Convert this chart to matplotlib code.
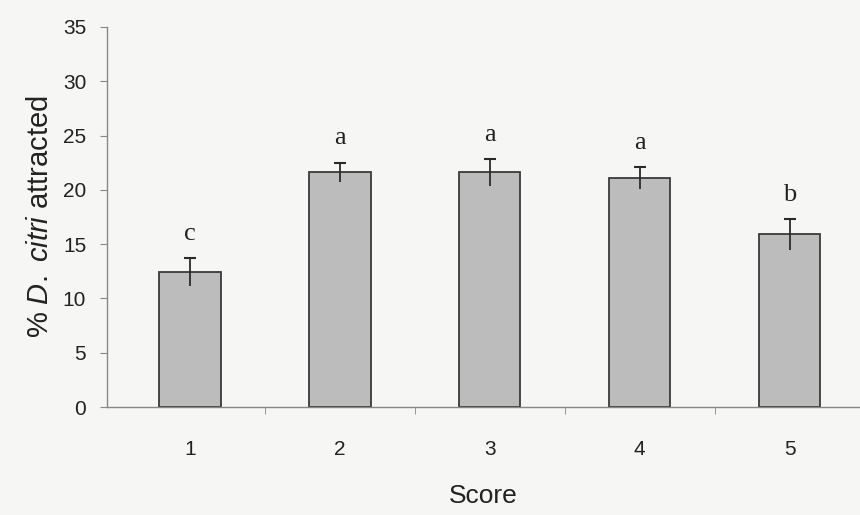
import matplotlib
matplotlib.use('Agg')
import matplotlib.pyplot as plt
import numpy as np

plt.rcParams['font.family'] = ['Liberation Sans', 'DejaVu Sans']
plt.rcParams['mathtext.fontset'] = 'custom'
plt.rcParams['mathtext.rm'] = 'Liberation Sans'
plt.rcParams['mathtext.it'] = 'Liberation Sans:italic'

scores = [1, 2, 3, 4, 5]
attracted = [12.4, 21.6, 21.6, 21.1, 15.9]
sem = [1.3, 0.9, 1.2, 1.0, 1.4]
groups = ['c', 'a', 'a', 'a', 'b']

fig = plt.figure(figsize=(8.6, 5.15), dpi=100, facecolor='#f6f6f4')
ax = fig.add_axes([0.1244, 0.2097, 0.8756, 0.7379])
ax.set_facecolor('#f6f6f4')

x = np.array(scores)
ax.bar(x, attracted, width=0.41, color='#bcbcbc', edgecolor='#3a3a3a', linewidth=1.3, zorder=2)
# error bars: stem runs through the bar top, cap only on the upper end
ax.errorbar(x, attracted, yerr=sem, fmt='none', ecolor='#2a2a2a', elinewidth=1.3, capsize=0, zorder=3)
tops = np.array(attracted) + np.array(sem)
ax.plot(x, tops, linestyle='none', marker='_', markersize=9, markeredgewidth=1.5, color='#2a2a2a', zorder=3)

for xi, t, g in zip(x, tops, groups):
    ax.text(xi, t + 1.7, g, ha='center', va='baseline', fontsize=19,
            family=['Liberation Serif', 'DejaVu Serif'], color='#222222')

ax.set_xlim(0.447, 5.47)
ax.set_ylim(0, 35)
ax.set_yticks(np.arange(0, 36, 5))
ax.set_xticks(x)
ax.set_xticks(np.arange(1.5, 5.5, 1.0), minor=True)
ax.tick_params(axis='x', which='major', length=0, pad=24, labelsize=15, labelcolor='#222222')
ax.tick_params(axis='x', which='minor', length=5, direction='out', color='#888888')
ax.tick_params(axis='y', length=5, direction='out', color='#888888', pad=10, labelsize=15, labelcolor='#222222')

for s in ['top', 'right']:
    ax.spines[s].set_visible(False)
for s in ['left', 'bottom']:
    ax.spines[s].set_color('#888888')
    ax.spines[s].set_linewidth(1.0)

ax.set_ylabel('% $\\mathit{D.\\ citri}$ attracted', fontsize=21, color='#222222', labelpad=6)
ax.set_xlabel('Score', fontsize=19, color='#222222', labelpad=18)

fig.savefig('out.png', dpi=100, facecolor=fig.get_facecolor())
